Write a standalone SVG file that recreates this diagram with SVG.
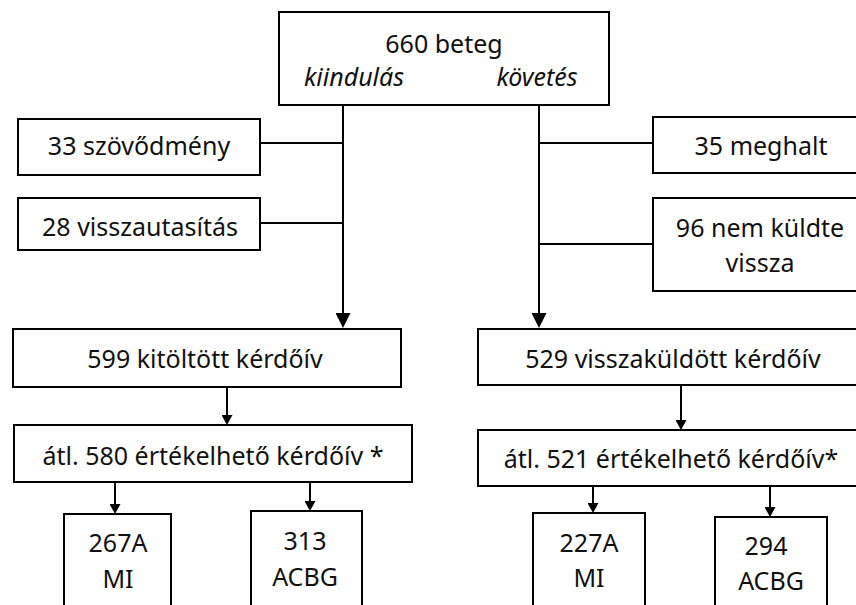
<svg xmlns="http://www.w3.org/2000/svg" width="856" height="605" viewBox="0 0 856 605">
<style>
.box{fill:#fff;stroke:#000;stroke-width:2}
.t{font-family:"Noto Sans","Open Sans",sans-serif;font-size:25px;fill:#111;text-anchor:middle}
.i{font-style:italic}
.c{stroke:#000;stroke-width:2;fill:none}
</style>
<defs>
<marker id="big" markerUnits="userSpaceOnUse" markerWidth="15" markerHeight="15" refX="7" refY="7.5" orient="auto">
<path d="M0,0 L15,7.5 L0,15 z" fill="#000"/>
</marker>
<marker id="small" markerUnits="userSpaceOnUse" markerWidth="11" markerHeight="11" refX="5" refY="5.5" orient="auto">
<path d="M0,0 L10,5.5 L0,11 z" fill="#000"/>
</marker>
</defs>
<g id="connectors">
<line class="c" x1="343" y1="105" x2="343" y2="320" marker-end="url(#big)"/>
<line class="c" x1="539" y1="105" x2="539" y2="320" marker-end="url(#big)"/>
<line class="c" x1="260" y1="143" x2="343" y2="143"/>
<line class="c" x1="260" y1="223" x2="343" y2="223"/>
<line class="c" x1="539" y1="143" x2="653" y2="143"/>
<line class="c" x1="539" y1="244" x2="653" y2="244"/>
<line class="c" x1="227" y1="387" x2="227" y2="420" marker-end="url(#small)"/>
<line class="c" x1="681" y1="385" x2="681" y2="425" marker-end="url(#small)"/>
<line class="c" x1="115" y1="482" x2="115" y2="509" marker-end="url(#small)"/>
<line class="c" x1="310" y1="482" x2="310" y2="506" marker-end="url(#small)"/>
<line class="c" x1="593" y1="486" x2="593" y2="508" marker-end="url(#small)"/>
<line class="c" x1="770" y1="486" x2="770" y2="512" marker-end="url(#small)"/>
</g>
<g id="n-start">
<rect class="box" x="279" y="12" width="330" height="93"/>
<text class="t" x="444" y="53">660 beteg</text>
<text class="t i" x="354" y="86">kiindulás</text>
<text class="t i" x="537" y="86">követés</text>
</g>
<g id="n-szovodmeny">
<rect class="box" x="18" y="119" width="242" height="56"/>
<text class="t" x="139" y="155">33 szövődmény</text>
</g>
<g id="n-visszautasitas">
<rect class="box" x="18" y="198" width="242" height="52"/>
<text class="t" x="140" y="236">28 visszautasítás</text>
</g>
<g id="n-meghalt">
<rect class="box" x="653" y="117" width="230" height="56"/>
<text class="t" x="761" y="155">35 meghalt</text>
</g>
<g id="n-nemkuldte">
<rect class="box" x="653" y="198" width="230" height="93"/>
<text class="t" x="760" y="237">96 nem küldte</text>
<text class="t" x="760" y="272">vissza</text>
</g>
<g id="n-kitoltott">
<rect class="box" x="13" y="329" width="388" height="58"/>
<text class="t" x="205" y="368">599 kitöltött kérdőív</text>
</g>
<g id="n-visszakuldott">
<rect class="box" x="478" y="329" width="400" height="56"/>
<text class="t" x="673" y="368">529 visszaküldött kérdőív</text>
</g>
<g id="n-ertekelheto1">
<rect class="box" x="14" y="425" width="398" height="57"/>
<text class="t" x="213" y="465">átl. 580 értékelhető kérdőív *</text>
</g>
<g id="n-ertekelheto2">
<rect class="box" x="478" y="430" width="400" height="56"/>
<text class="t" x="671" y="468">átl. 521 értékelhető kérdőív*</text>
</g>
<g id="n-ami1">
<rect class="box" x="64" y="514" width="107" height="110"/>
<text class="t" x="118" y="552">267A</text>
<text class="t" x="118" y="588">MI</text>
</g>
<g id="n-acbg1">
<rect class="box" x="251" y="511" width="111" height="110"/>
<text class="t" x="305" y="550">313</text>
<text class="t" x="305" y="586">ACBG</text>
</g>
<g id="n-ami2">
<rect class="box" x="533" y="513" width="112" height="110"/>
<text class="t" x="589" y="552">227A</text>
<text class="t" x="589" y="587">MI</text>
</g>
<g id="n-acbg2">
<rect class="box" x="715" y="517" width="112" height="110"/>
<text class="t" x="766" y="555">294</text>
<text class="t" x="771" y="590">ACBG</text>
</g>
</svg>
